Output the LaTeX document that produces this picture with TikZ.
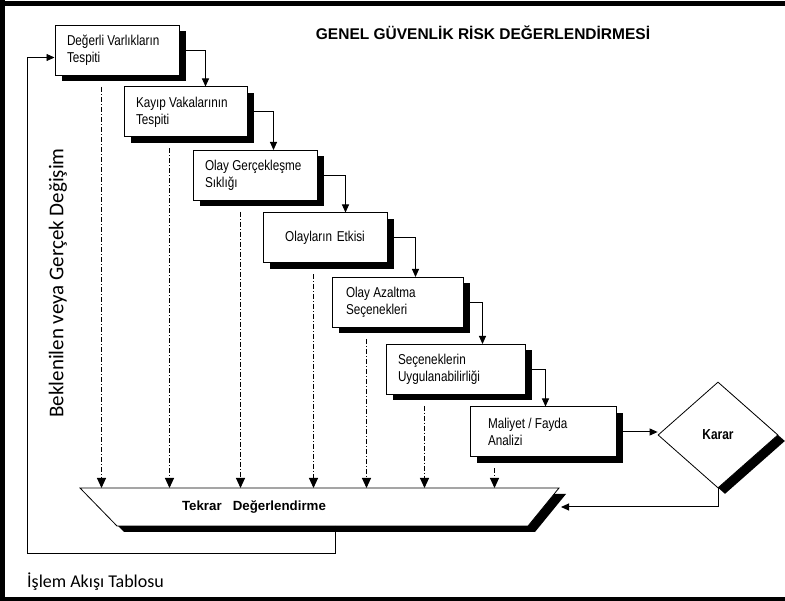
\documentclass[tikz,border=0pt]{standalone}
\usepackage{fontspec}
\setmainfont{Liberation Sans}
\newfontfamily\calibri{Carlito}
\newfontfamily\dar[FakeStretch=0.82]{Liberation Sans}
\usetikzlibrary{shapes.geometric,shadows,arrows.meta}
\newcommand{\kutuyazi}{\dar\fontsize{14.3}{17}\selectfont}
\newcommand{\adim}[5]{%
  \node[kutu, minimum width=#3pt, text width=#4pt]
  (#1) at (#2) {#5};}
\tikzset{
  golge/.style={drop shadow={shadow xshift=7pt, shadow yshift=-6pt,
      fill=black, opacity=1}},
  kutu/.style={draw, fill=white, line width=1pt, golge, minimum height=50pt,
    inner xsep=12pt, align=flush left, font=\kutuyazi},
  ok/.style={line width=1pt, -{Triangle[length=8pt,width=7pt]}},
  kesik/.style={line width=1pt, dash pattern=on 5pt off 2pt on 1pt off 2pt,
    -{Triangle[length=10pt,width=9pt]}},
}

\begin{document}
\begin{tikzpicture}[x=1pt, y=-1pt]

\useasboundingbox (0,0) rectangle (785,601);

% ====================================================================
%
%         Cerceve ve yazilar
%
% ====================================================================

  \fill (0,1.5) rectangle (785,6);
  \fill (0,0) rectangle (5,601);
  \fill (0,597) rectangle (785,601);

  \node[font=\bfseries\fontsize{15.5}{18}\selectfont] (baslik) at (483,33)
    {GENEL GÜVENLİK RİSK DEĞERLENDİRMESİ};
  \node[rotate=90, font=\calibri\fontsize{21}{24}\selectfont] (degisim) at (58,283)
    {Beklenilen veya Gerçek Değişim};
  \node[anchor=west, inner sep=0pt, font=\calibri\fontsize{18}{20}\selectfont]
    (tablo) at (27,582) {İşlem Akışı Tablosu};

% ====================================================================
%
%         Adimlar
%
% ====================================================================

  \adim{b1}{117,50.5}{124}{100}{Değerli Varlıkların\\Tespiti}
  \adim{b2}{185.5,112}{123}{99}{Kayıp Vakalarının\\Tespiti}
  \adim{b3}{255,175.5}{124}{100}{Olay Gerçekleşme\\Sıklığı}
  \node[kutu, align=center, minimum width=124pt, text width=100pt]
    (b4) at (325,238) {Olayların Etkisi};
  \adim{b5}{397.5,302.5}{131}{103}{Olay Azaltma\\Seçenekleri}
  \adim{b6}{455.5,369.5}{139}{115}{Seçeneklerin\\Uygulanabilirliği}
  \node[kutu, inner xsep=18pt, minimum width=146pt, text width=110pt]
    (b7) at (543,432) {Maliyet / Fayda\\Analizi};

  % karar
  \node[diamond, draw, fill=white, line width=0.8pt, golge, inner sep=0pt,
    minimum width=120pt, minimum height=106pt,
    font=\dar\bfseries\fontsize{14.5}{17}\selectfont] (karar) at (718,435) {Karar};

  % tekrar degerlendirme
  \path[draw, fill=white, line width=0.8pt, golge]
    (80,488) coordinate (t1) -- (559,488) coordinate (t2)
    -- (528,526) coordinate (t3) -- (117,526) coordinate (t4) -- cycle;
  \node[font=\bfseries\fontsize{13.3}{15}\selectfont] (tekrar) at (254,507)
    {Tekrar~~~Değerlendirme};

% ====================================================================
%
%         Oklar
%
% ====================================================================

  % basamak oklari
  \foreach \a/\b/\d in {b1/b2/26, b2/b3/26, b3/b4/28, b4/b5/28, b5/b6/19, b6/b7/20}
    \draw[ok] (\a.east) -- ++(\d,0) coordinate (k) -- (k |- \b.north);

  \draw[ok] (b7.east) -- (b7.east -| karar.west);
  \coordinate (tsag) at (561,507);
  \draw[ok] (karar.south) |- (tsag);

  % kesik oklar
  \foreach \k/\dx in {b1/47, b2/46, b3/48, b4/51, b5/35, b6/39, b7/25}{
    \path ([xshift=\dx pt]\k.south west) coordinate (u);
    \draw[kesik] ([yshift=-11pt]u) -- (u |- t1);
  }

  % geri donus
  \coordinate (talt) at (335,526);
  \coordinate (geri) at (27,553);
  \draw[ok, line width=0.8pt] (talt) |- (geri) |- ([yshift=-7pt]b1.west);

\end{tikzpicture}
\end{document}
